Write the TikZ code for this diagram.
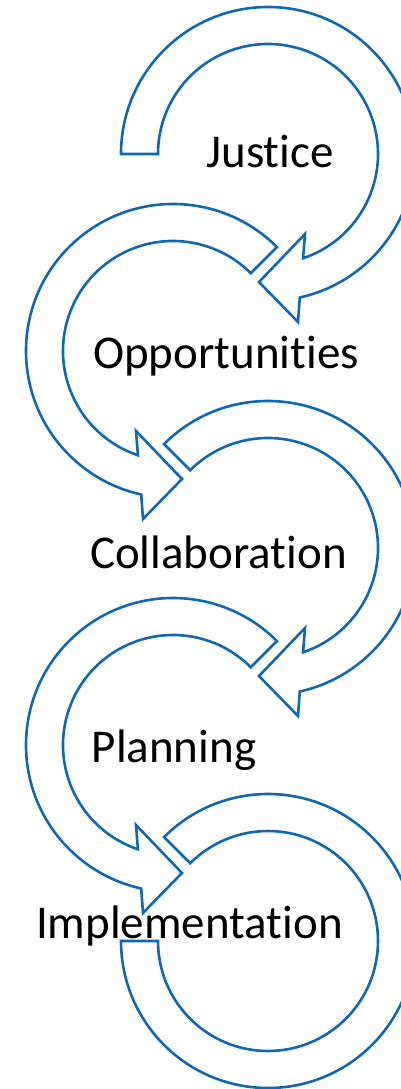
\documentclass[tikz,border=0pt]{standalone}
\usepackage{fontspec}
\setmainfont[Ligatures={NoCommon,NoContextual},RawFeature={-liga;-clig;-dlig}]{Carlito}
\definecolor{arrowblue}{RGB}{16,104,178}
\tikzset{
  carrow/.style={draw=arrowblue, fill=white, line width=2.6pt, line join=miter},
  steptext/.style={font=\fontsize{47}{56}\selectfont, text=black, anchor=base, inner sep=0pt}
}
\newcommand\cwarrowshape[1]{%
  \draw[carrow] (#1:110) -- (#1:147) arc[start angle=#1, end angle=-77.5, radius=147]
    -- (30,-168) -- (-9,-128) -- (37,-80) -- (-71.4:110)
    arc[start angle=-71.4, end angle=#1, radius=110] -- cycle;}
\newcommand\ringendshape{%
  \draw[carrow] (135:110) -- (135:147) arc[start angle=135, end angle=-180, radius=147]
    -- (-180:110) arc[start angle=-180, end angle=135, radius=110] -- cycle;}
\begin{document}
\begin{tikzpicture}[x=1pt, y=1pt]
\useasboundingbox (0,0) rectangle (401,-1089);
\clip (0,0) rectangle (401,-1089);
\begin{scope}[shift={(268,-154)}] \cwarrowshape{180} \end{scope}
\begin{scope}[shift={(173,-351)}, xscale=-1] \cwarrowshape{135} \end{scope}
\begin{scope}[shift={(268,-548)}] \cwarrowshape{135} \end{scope}
\begin{scope}[shift={(173,-745)}, xscale=-1] \cwarrowshape{135} \end{scope}
\begin{scope}[shift={(268,-941)}] \ringendshape \end{scope}
\node[steptext] (justice) at (270,-167) {Justice};
\node[steptext] (opportunities) at (226,-368) {Opportunities};
\node[steptext] (collaboration) at (218.5,-568) {Collaboration};
\node[steptext] (planning) at (174,-762) {Planning};
\node[steptext] (implementation) at (189.5,-938) {Implementation};
\end{tikzpicture}
\end{document}
